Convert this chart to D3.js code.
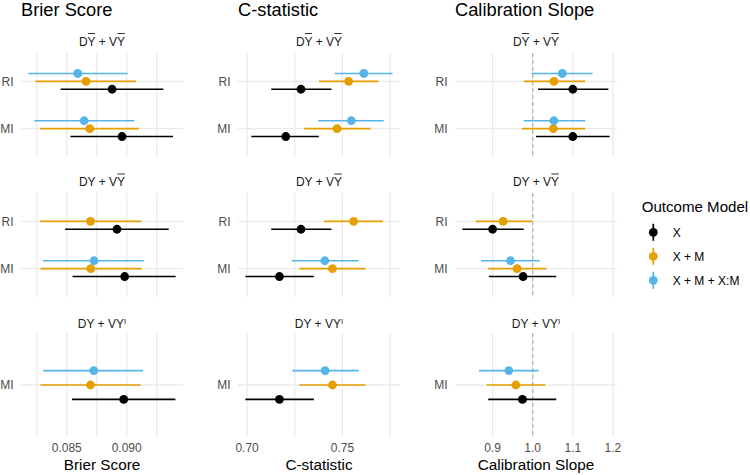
<!DOCTYPE html>
<html><head><meta charset="utf-8">
<script src="https://cdn.jsdelivr.net/npm/d3@7"></script>
<style>body{margin:0;background:#fff}svg{display:block}</style>
</head><body>
<svg id="chart" width="750" height="475"></svg>
<script>
// ---------- data ----------
const metrics = ["Brier Score", "C-statistic", "Calibration Slope"];
const models = ["X", "X + M", "X + M + X:M"];
const modelColors = ["#000000", "#E69F00", "#56B4E9"];
const analyses = [["RI", "MI"], ["RI", "MI"], ["MI"]];
// strip labels (plotmath-like): bar = overline, sup = superscript
const scenarioLabels = [
  [{t: "D"}, {t: "Y", bar: true}, {t: " + "}, {t: "V"}, {t: "Y", bar: true}],
  [{t: "D"}, {t: "Y"}, {t: " + "}, {t: "V"}, {t: "Y", bar: true}],
  [{t: "D"}, {t: "Y"}, {t: " + "}, {t: "V"}, {t: "Y"}, {t: "I", sup: true}]
];

// rows: scenario, analysis, model, estimate, lower, upper
const brierScore = [
  [0, "RI", 0, 0.08878, 0.08450, 0.09305],
  [0, "RI", 1, 0.08661, 0.08239, 0.09078],
  [0, "RI", 2, 0.08592, 0.08180, 0.09008],
  [0, "MI", 0, 0.08961, 0.08531, 0.09386],
  [0, "MI", 1, 0.08692, 0.08278, 0.09103],
  [0, "MI", 2, 0.08645, 0.08230, 0.09063],
  [1, "RI", 0, 0.08919, 0.08486, 0.09350],
  [1, "RI", 1, 0.08698, 0.08278, 0.09123],
  [1, "MI", 0, 0.08983, 0.08548, 0.09408],
  [1, "MI", 1, 0.08700, 0.08281, 0.09125],
  [1, "MI", 2, 0.08728, 0.08303, 0.09142],
  [2, "MI", 0, 0.08975, 0.08544, 0.09406],
  [2, "MI", 1, 0.08698, 0.08281, 0.09117],
  [2, "MI", 2, 0.08725, 0.08303, 0.09136]
];
const cStatistic = [
  [0, "RI", 0, 0.72828, 0.71266, 0.74427],
  [0, "RI", 1, 0.75328, 0.73781, 0.76891],
  [0, "RI", 2, 0.76125, 0.74599, 0.77635],
  [0, "MI", 0, 0.72031, 0.70224, 0.73766],
  [0, "MI", 1, 0.74719, 0.73000, 0.76474],
  [0, "MI", 2, 0.75469, 0.73729, 0.77167],
  [1, "RI", 0, 0.72828, 0.71266, 0.74427],
  [1, "RI", 1, 0.75589, 0.74042, 0.77115],
  [1, "MI", 0, 0.71698, 0.69911, 0.73505],
  [1, "MI", 1, 0.74479, 0.72740, 0.76214],
  [1, "MI", 2, 0.74078, 0.72344, 0.75849],
  [2, "MI", 0, 0.71698, 0.69911, 0.73505],
  [2, "MI", 1, 0.74479, 0.72740, 0.76214],
  [2, "MI", 2, 0.74094, 0.72375, 0.75865]
];
const calibrationSlope = [
  [0, "RI", 0, 1.1000, 1.0132, 1.1886],
  [0, "RI", 1, 1.0529, 0.9777, 1.1308],
  [0, "RI", 2, 1.0737, 0.9968, 1.1496],
  [0, "MI", 0, 1.1000, 1.0082, 1.1918],
  [0, "MI", 1, 1.0514, 0.9727, 1.1308],
  [0, "MI", 2, 1.0529, 0.9777, 1.1308],
  [1, "RI", 0, 0.9000, 0.8246, 0.9777],
  [1, "RI", 1, 0.9263, 0.8578, 0.9983],
  [1, "MI", 0, 0.9759, 0.8908, 1.0588],
  [1, "MI", 1, 0.9610, 0.8891, 1.0340],
  [1, "MI", 2, 0.9447, 0.8710, 1.0174],
  [2, "MI", 0, 0.9744, 0.8891, 1.0588],
  [2, "MI", 1, 0.9578, 0.8851, 1.0315],
  [2, "MI", 2, 0.9404, 0.8660, 1.0149]
];
const metricData = [brierScore, cStatistic, calibrationSlope];

const gridBreaks = [
  [0.0825, 0.085, 0.0875, 0.090, 0.0925],
  [0.700, 0.725, 0.750, 0.775],
  [0.9, 1.0, 1.1, 1.2]
];
const tickValues = [[0.085, 0.090], [0.70, 0.75], [0.9, 1.0, 1.1, 1.2]];
const tickLabels = [["0.085", "0.090"], ["0.70", "0.75"], ["0.9", "1.0", "1.1", "1.2"]];
const referenceLine = [null, null, 1.0];

// ---------- layout ----------
const FONT = "'Liberation Sans', Arial, Helvetica, sans-serif";
const panelX = [21, 238, 455], panelW = 162;
const panelY = [53, 193, 333], panelH = 104;
const stripBase = [45.5, 186, 328];

const svg = d3.select("#chart").style("font-family", FONT);
svg.append("rect").attr("width", 750).attr("height", 475).attr("fill", "#fff");

metrics.forEach((metric, c) => {
  const data = metricData[c];
  const lo = d3.min(data, d => d[4]), hi = d3.max(data, d => d[5]);
  const pad = (hi - lo) * 0.05;
  const x = d3.scaleLinear().domain([lo - pad, hi + pad]).range([panelX[c], panelX[c] + panelW]);

  // column title
  svg.append("text").attr("x", panelX[c]).attr("y", 15.5)
    .attr("font-size", 18.3).attr("fill", "#000").text(metric);

  analyses.forEach((levels, r) => {
    const y = d3.scalePoint().domain(levels).range([panelY[r], panelY[r] + panelH]).padding(0.6);
    const dodge = y.step() * 0.5 / 3;
    const g = svg.append("g");

    // grid
    g.selectAll("line.vg").data(gridBreaks[c]).join("line")
      .attr("x1", d => x(d)).attr("x2", d => x(d))
      .attr("y1", panelY[r]).attr("y2", panelY[r] + panelH)
      .attr("stroke", "#EBEBEB").attr("stroke-width", 1.3);
    g.selectAll("line.hg").data(levels).join("line")
      .attr("x1", panelX[c]).attr("x2", panelX[c] + panelW)
      .attr("y1", d => y(d)).attr("y2", d => y(d))
      .attr("stroke", "#EBEBEB").attr("stroke-width", 1.3);

    if (referenceLine[c] !== null) {
      g.append("line").attr("x1", x(referenceLine[c])).attr("x2", x(referenceLine[c]))
        .attr("y1", panelY[r]).attr("y2", panelY[r] + panelH)
        .attr("stroke", "#ABABAB").attr("stroke-width", 1.1).attr("stroke-dasharray", "4,3");
    }

    // y labels
    g.selectAll("text.yl").data(levels).join("text")
      .attr("x", panelX[c] - 7.5).attr("y", d => y(d) + 4.3)
      .attr("text-anchor", "end").attr("font-size", 12).attr("fill", "#4D4D4D").text(d => d);

    // strip label
    const st = g.append("text").attr("y", stripBase[r]).attr("font-size", 12).attr("fill", "#1A1A1A");
    scenarioLabels[r].forEach(p => {
      const ts = st.append("tspan").text(p.t);
      if (p.sup) ts.attr("font-size", 8).attr("dy", -4.5);
    });
    const tw = st.node().getComputedTextLength();
    const sx = panelX[c] + panelW / 2 - tw / 2;
    st.attr("x", sx);
    let ci = 0;
    scenarioLabels[r].forEach(p => {
      if (p.bar) {
        const n = st.node();
        const a = n.getStartPositionOfChar(ci).x, b = n.getEndPositionOfChar(ci).x;
        g.append("line").attr("x1", a + 0.3).attr("x2", b - 0.3)
          .attr("y1", stripBase[r] - 12).attr("y2", stripBase[r] - 12)
          .attr("stroke", "#1A1A1A").attr("stroke-width", 0.9);
      }
      ci += p.t.length;
    });

    const rows = data.filter(d => d[0] === r);
    // dodge: model 0 below, model 2 above
    const yy = d => y(d[1]) + (1 - d[2]) * dodge;
    // ranges
    g.selectAll("line.ci").data(rows).join("line")
      .attr("x1", d => x(d[4])).attr("x2", d => x(d[5]))
      .attr("y1", yy).attr("y2", yy)
      .attr("stroke", d => modelColors[d[2]]).attr("stroke-width", 1.7);
    g.selectAll("circle.pt").data(rows).join("circle")
      .attr("cx", d => x(d[3])).attr("cy", yy).attr("r", 4.4)
      .attr("fill", d => modelColors[d[2]]);
  });

  // x axis ticks
  const axG = svg.append("g");
  axG.selectAll("text").data(tickValues[c]).join("text")
    .attr("x", d => x(d)).attr("y", 452).attr("text-anchor", "middle")
    .attr("font-size", 12).attr("fill", "#4D4D4D")
    .text((d, i) => tickLabels[c][i]);
  axG.append("text").attr("x", panelX[c] + panelW / 2).attr("y", 470)
    .attr("text-anchor", "middle").attr("font-size", 15.3).attr("fill", "#000").text(metric);
});

// legend
const lg = svg.append("g");
lg.append("text").attr("x", 641.7).attr("y", 211.5).attr("font-size", 15.1).attr("fill", "#000").text("Outcome Model");
const ly = d3.scalePoint().domain(models).range([232.3, 280.3]);
models.forEach((m, i) => {
  const cy = ly(m);
  lg.append("line").attr("x1", 653.3).attr("x2", 653.3).attr("y1", cy - 8.5).attr("y2", cy + 8.5)
    .attr("stroke", modelColors[i]).attr("stroke-width", 1.7);
  lg.append("circle").attr("cx", 653.3).attr("cy", cy).attr("r", 4.4).attr("fill", modelColors[i]);
  lg.append("text").attr("x", 672.7).attr("y", cy + 4.3).attr("font-size", 12).attr("fill", "#000").text(m);
});
</script>
</body></html>
